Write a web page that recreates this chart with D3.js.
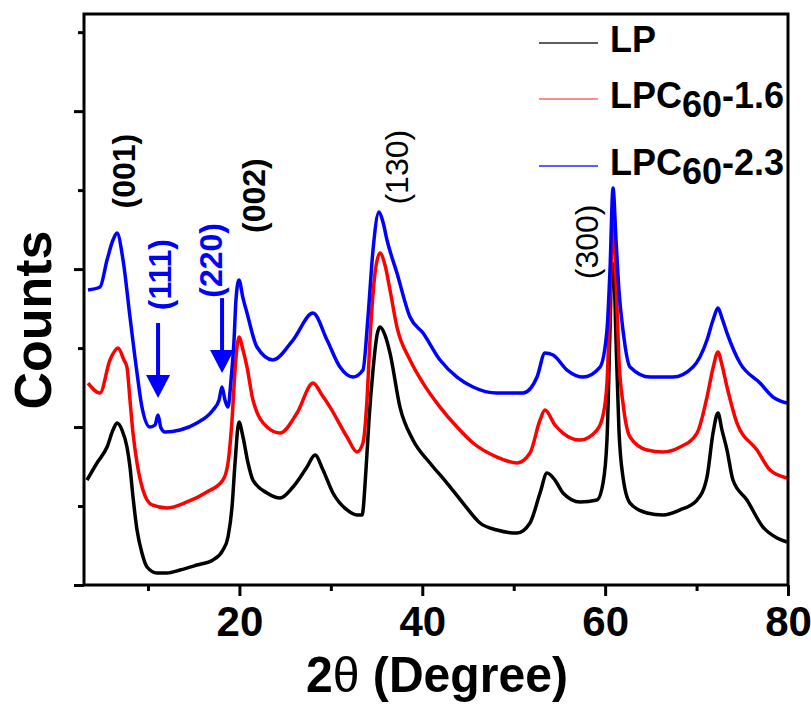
<!DOCTYPE html>
<html>
<head>
<meta charset="utf-8">
<script src="https://cdn.jsdelivr.net/npm/d3@7"></script>
<style>
  html, body { margin: 0; padding: 0; background: #fff; }
  svg { display: block; }
  text { font-family: "Liberation Sans", Arial, sans-serif; }
</style>
</head>
<body>
<svg id="chart" width="811" height="704"></svg>
<script>
// XRD patterns: 2θ (degree) and counts (arbitrary, stacked with offsets)
const lpTheta = [3.33,4.42,5.52,6.17,6.61,7.16,7.70,8.03,8.36,8.80,9.34,9.89,10.98,12.08,13.50,15.36,17.11,18.20,18.75,19.19,19.52,19.95,20.39,20.94,21.48,23.02,24.44,25.86,27.39,28.27,29.14,30.23,31.77,32.86,33.41,33.84,34.17,34.61,35.05,35.37,35.92,36.47,37.56,38.98,40.84,42.70,44.45,46.31,48.17,50.36,51.78,52.88,53.64,54.51,55.39,57.25,59.11,59.77,60.20,60.53,60.75,60.97,61.19,61.51,61.95,62.72,64.58,66.33,68.19,70.05,71.14,71.80,72.34,72.78,73.33,73.98,75.51,77.26,78.80,79.89];
const lpCounts = [1329,1545,1747,1962,2051,1962,1747,1494,1114,696,405,228,152,152,190,253,317,443,608,988,1545,2064,1874,1545,1329,1165,1101,1241,1494,1646,1456,1165,950,886,886,1456,2089,2722,3165,3266,3165,2937,2253,1836,1545,1291,1038,785,696,658,785,1165,1418,1329,1165,1051,1076,1291,1836,3228,4077,3925,3102,1962,1367,1038,912,886,950,1076,1367,1924,2178,1962,1709,1329,1076,734,595,544];

const lpc16Theta = [3.44,4.75,5.84,6.72,7.37,7.70,8.03,8.36,8.80,9.45,10.44,12.08,14.27,16.45,18.20,18.75,19.19,19.52,19.95,20.39,20.83,21.48,23.02,24.44,26.30,28.05,29.03,29.91,31.77,32.86,33.51,33.95,34.28,34.83,35.37,35.92,36.47,37.23,38.66,40.08,41.94,43.80,45.55,48.17,50.36,51.78,52.88,53.42,54.51,55.39,57.25,59.11,59.77,60.20,60.53,60.86,61.19,61.51,61.95,62.72,64.58,66.33,68.19,70.05,71.14,71.80,72.34,72.78,73.33,74.42,76.61,78.03,79.89];
const lpc16Counts = [2557,2431,2849,3000,2849,2760,2342,1924,1545,1203,1013,975,1051,1177,1329,1545,2089,2722,3140,2975,2760,2342,2000,1924,2178,2557,2405,2253,1874,1684,1798,2342,3102,3950,4203,4051,3735,3266,2849,2557,2253,2000,1798,1620,1545,1671,2089,2216,2026,1924,1836,1962,2152,2557,3608,4583,3861,2849,2304,1874,1709,1684,1747,1924,2380,2747,2950,2785,2507,2051,1709,1456,1355];

const lpc23Theta = [3.44,4.75,5.52,6.17,6.61,7.27,8.03,8.80,9.34,10.22,10.77,11.09,11.42,11.86,13.50,15.36,17.11,17.77,18.09,18.42,18.75,19.08,19.41,19.62,19.95,20.39,20.83,21.92,23.67,25.86,28.05,29.58,31.00,32.42,33.51,34.06,34.61,35.26,35.70,36.14,37.23,38.66,40.08,41.94,43.80,45.55,48.17,51.02,52.55,53.42,54.30,55.83,57.58,59.44,60.20,60.53,60.86,61.19,61.51,61.95,62.72,64.91,67.42,69.61,71.14,71.80,72.34,72.78,73.33,74.75,76.94,78.36,79.89];
const lpc23Counts = [3735,3773,4115,4368,4456,4115,3393,2684,2253,2000,2026,2152,1988,1937,1962,2051,2216,2342,2507,2342,2253,2595,3102,3608,3861,3633,3444,3013,2849,3102,3444,3102,2760,2633,2722,3393,4241,4722,4596,4368,3950,3393,3190,2849,2633,2507,2431,2431,2633,2937,2912,2722,2633,2760,3228,3988,5026,4368,3735,3228,2760,2633,2633,2760,3102,3355,3507,3380,3190,2811,2557,2380,2304];

const seriesNames = ["LP", "LPC60-1.6", "LPC60-2.3"];
const seriesColors = ["#000000", "#ff0000", "#0000ff"];

// Axis ticks
const xMajorTicks = [20, 40, 60, 80];
const xMinorTicks = [10, 30, 50, 70];
const yMajorTicks = [0, 2000, 4000, 6000];
const yMinorTicks = [1000, 3000, 5000, 7000];

// Reflection labels: [label, 2θ, counts at label centre, colour, bold]
const peakLabels = [
  ["(001)", 7.35, 5240, "#000", true],
  ["(111)", 11.3, 3930, "#0000ff", true],
  ["(220)", 16.9, 4110, "#0000ff", true],
  ["(002)", 21.6, 4930, "#000", true],
  ["(130)", 37.2, 5290, "#000", false],
  ["(300)", 58.0, 4345, "#000", false]
];
// Arrows marking the carbon reflections: [2θ, counts at tail, counts at tip]
const peakArrows = [
  [11.1, 3317, 2367],
  [18.1, 3633, 2684]
];

const svg = d3.select("#chart");
const plotLeft = 84, plotRight = 788, plotTop = 14, plotBottom = 585;

const x = d3.scaleLinear().domain([3, 80]).range([plotLeft, plotRight]);
const y = d3.scaleLinear().domain([0, 7230]).range([plotBottom, plotTop]);

svg.append("defs").append("clipPath").attr("id", "plotClip")
  .append("rect").attr("x", plotLeft).attr("y", plotTop)
  .attr("width", plotRight - plotLeft).attr("height", plotBottom - plotTop);

const series = [
  { theta: lpTheta, counts: lpCounts },
  { theta: lpc16Theta, counts: lpc16Counts },
  { theta: lpc23Theta, counts: lpc23Counts }
];

const line = d3.line()
  .x(d => x(d[0]))
  .y(d => y(d[1]))
  .curve(d3.curveMonotoneX);

const plot = svg.append("g").attr("clip-path", "url(#plotClip)");
series.forEach((s, i) => {
  const pts = s.theta.map((t, k) => [t, s.counts[k]]);
  plot.append("path")
    .datum(pts)
    .attr("d", line)
    .attr("fill", "none")
    .attr("stroke", seriesColors[i])
    .attr("stroke-width", 3.5)
    .attr("stroke-linejoin", "round");
});

// Axes
function styleAxis(g) {
  g.select(".domain").remove();
  g.selectAll(".tick line").attr("stroke", "#000").attr("stroke-width", 3);
}
svg.append("g").attr("transform", `translate(0,${plotBottom})`)
  .call(d3.axisBottom(x).tickValues(xMajorTicks).tickSize(11).tickPadding(10).tickFormat(d3.format("d")))
  .call(styleAxis)
  .call(g => g.selectAll(".tick text")
    .attr("fill", "#000").attr("font-size", 42).attr("font-weight", "bold")
    .attr("font-family", "Liberation Sans, Arial, sans-serif"));
svg.append("g").attr("transform", `translate(0,${plotBottom})`)
  .call(d3.axisBottom(x).tickValues(xMinorTicks).tickSize(6).tickFormat(""))
  .call(styleAxis);
svg.append("g").attr("transform", `translate(${plotLeft},0)`)
  .call(d3.axisLeft(y).tickValues(yMajorTicks).tickSize(10).tickFormat(""))
  .call(styleAxis);
svg.append("g").attr("transform", `translate(${plotLeft},0)`)
  .call(d3.axisLeft(y).tickValues(yMinorTicks).tickSize(6).tickFormat(""))
  .call(styleAxis);

// Frame
svg.append("rect")
  .attr("x", plotLeft).attr("y", plotTop)
  .attr("width", plotRight - plotLeft).attr("height", plotBottom - plotTop)
  .attr("fill", "none").attr("stroke", "#000").attr("stroke-width", 3);

// Axis titles
const xTitle = svg.append("text")
  .attr("x", 437).attr("y", 692)
  .attr("text-anchor", "middle")
  .attr("font-size", 50).attr("font-weight", "bold")
  .attr("textLength", 262).attr("lengthAdjust", "spacingAndGlyphs");
xTitle.append("tspan").text("2");
xTitle.append("tspan").attr("font-weight", "normal").text("θ");
xTitle.append("tspan").text(" (Degree)");

svg.append("text")
  .attr("transform", "translate(51,320) rotate(-90)")
  .attr("text-anchor", "middle")
  .attr("font-size", 52).attr("font-weight", "bold")
  .text("Counts");

// Reflection labels
peakLabels.forEach(([lab, t, c, col, bold]) => {
  svg.append("text")
    .attr("transform", `translate(${x(t)},${y(c)}) rotate(-90)`)
    .attr("text-anchor", "middle")
    .attr("dy", "0.35em")
    .attr("font-size", 32)
    .attr("font-weight", bold ? "bold" : "normal")
    .attr("fill", col)
    .text(lab);
});

// Arrows
peakArrows.forEach(([t, c0, c1]) => {
  const ax = x(t), y0 = y(c0), y1 = y(c1);
  const headLen = 23, headHalf = 12;
  svg.append("line")
    .attr("x1", ax).attr("x2", ax)
    .attr("y1", y0).attr("y2", y1 - headLen + 2)
    .attr("stroke", "#0000ff").attr("stroke-width", 4);
  svg.append("path")
    .attr("d", `M${ax - headHalf},${y1 - headLen} L${ax + headHalf},${y1 - headLen} L${ax},${y1} Z`)
    .attr("fill", "#0000ff");
});

// Legend
const legendY = [43, 99, 166];
seriesNames.forEach((name, i) => {
  const ly = legendY[i];
  svg.append("line")
    .attr("x1", 539).attr("x2", 598)
    .attr("y1", ly).attr("y2", ly)
    .attr("stroke", seriesColors[i]).attr("stroke-width", 1.5)
    .attr("stroke-opacity", i === 1 ? 0.6 : 0.85);
  const t = svg.append("text")
    .attr("x", 610).attr("y", ly + 9)
    .attr("font-size", 36).attr("font-weight", "bold").attr("fill", "#000");
  const m = name.match(/^(LPC)(60)(.*)$/);
  if (m) {
    t.append("tspan").text(m[1]);
    t.append("tspan").attr("dy", 9).text(m[2]);
    t.append("tspan").attr("dy", -9).text(m[3]);
  } else {
    t.text(name);
  }
});
</script>
</body>
</html>
